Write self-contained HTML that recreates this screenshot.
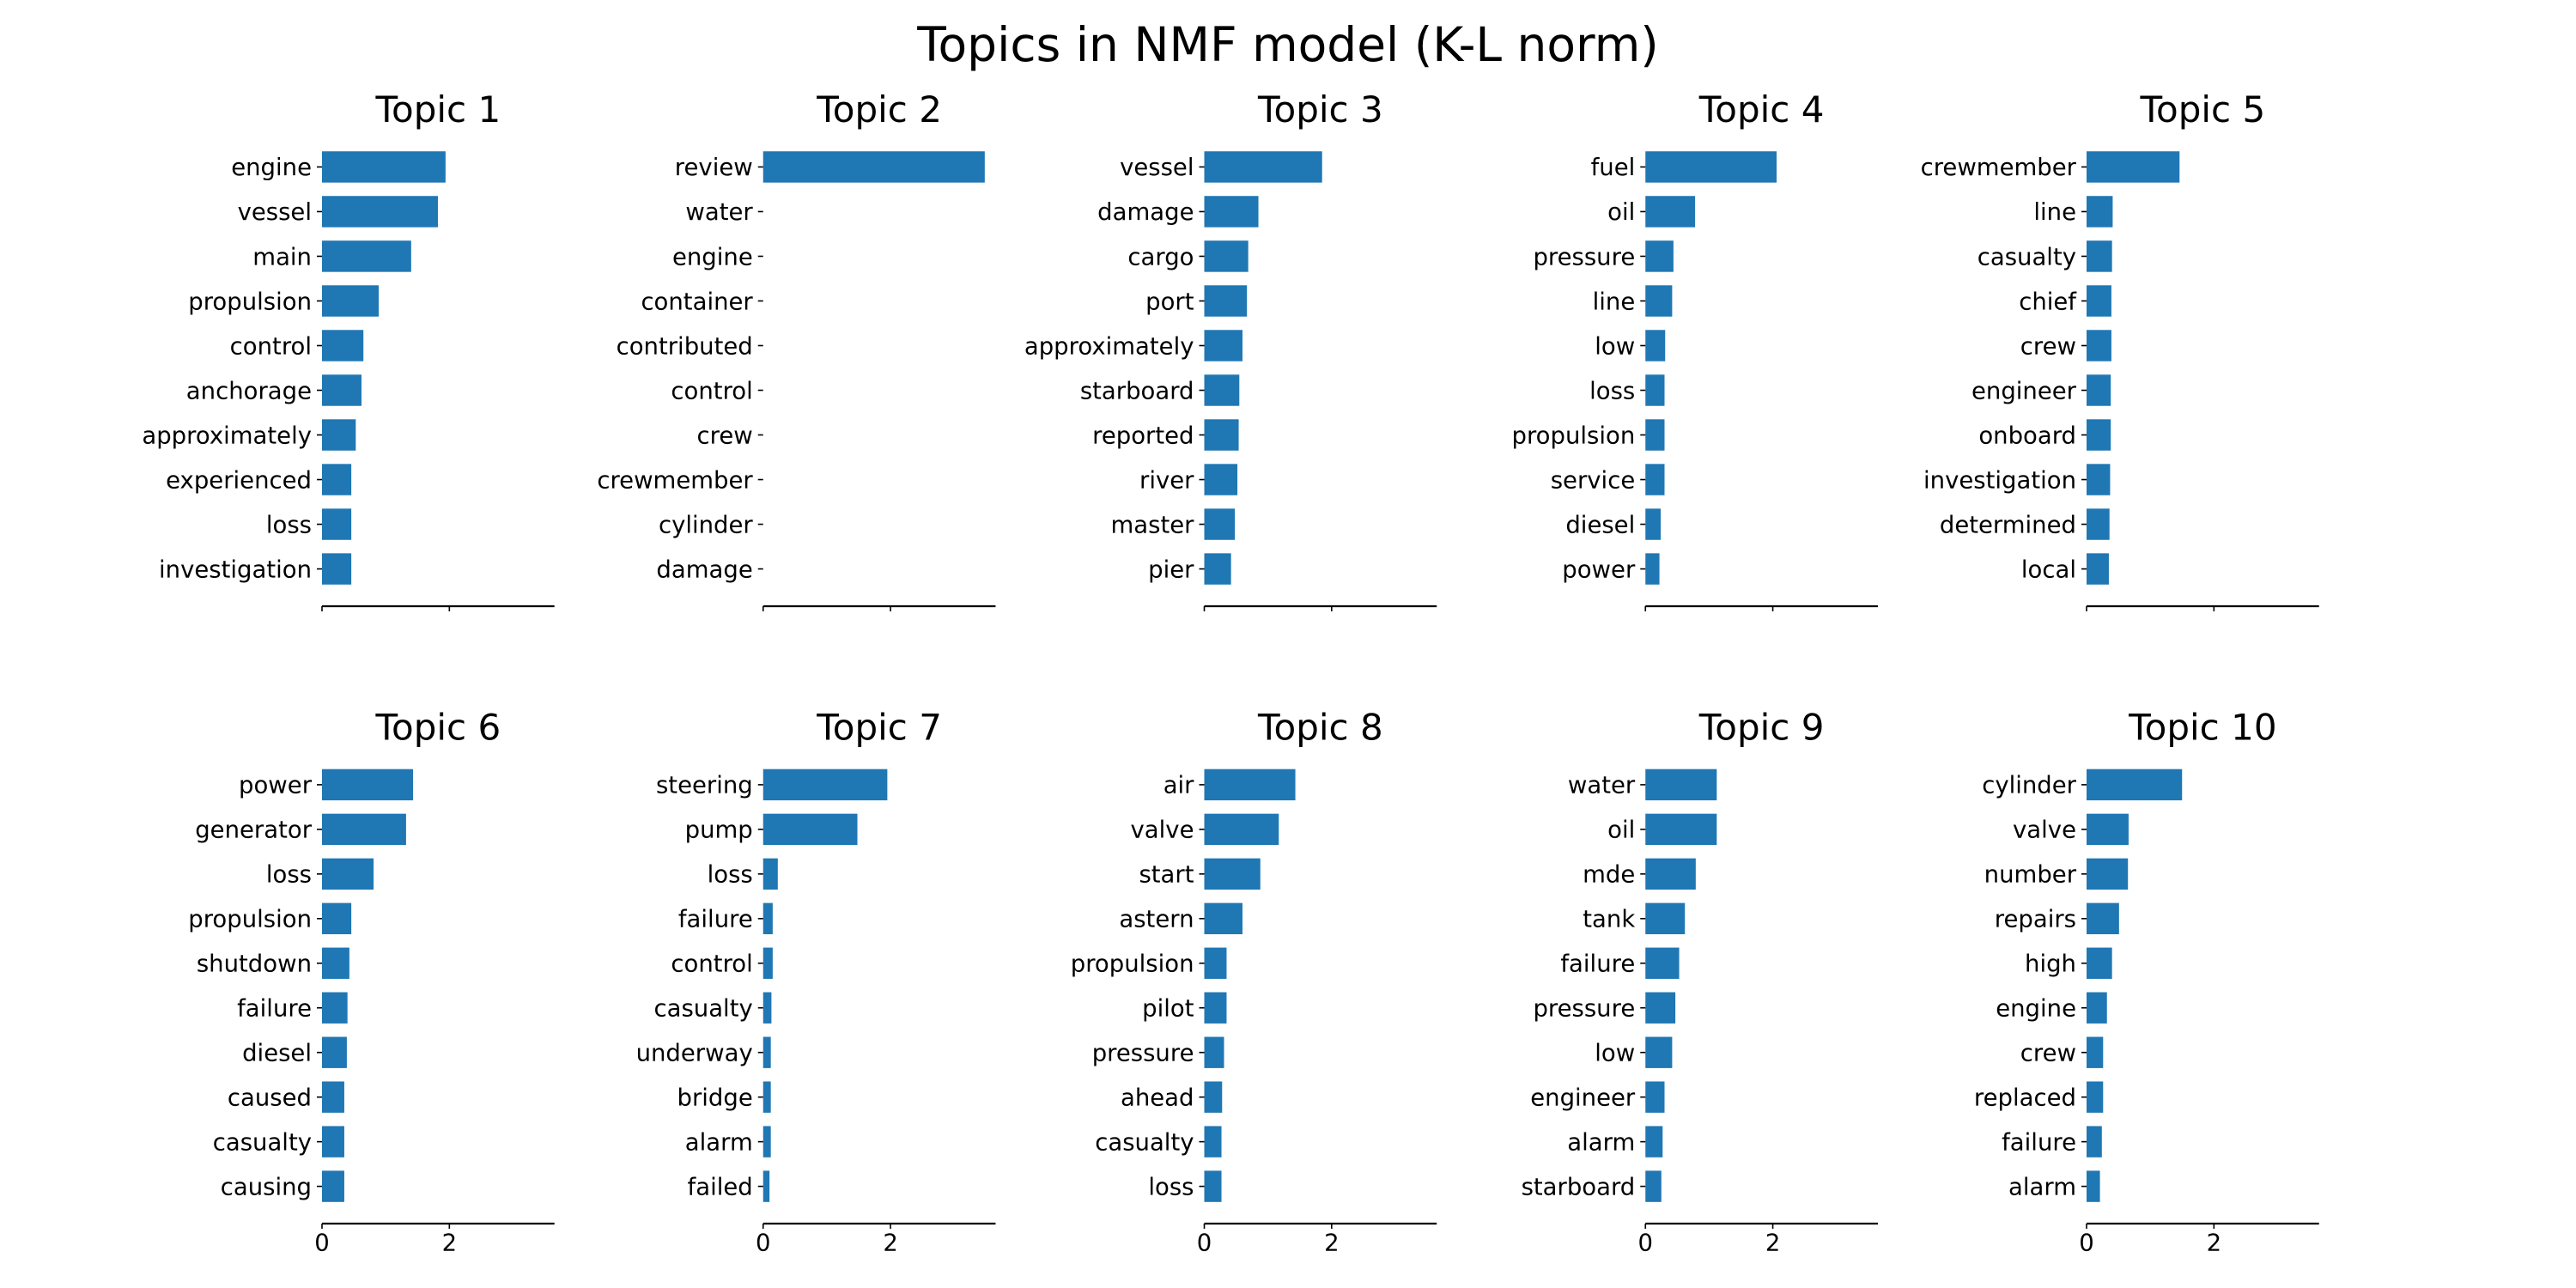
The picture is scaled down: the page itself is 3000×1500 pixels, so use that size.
<!DOCTYPE html>
<html>
<head>
<meta charset="utf-8">
<style>
html,body{margin:0;padding:0;background:#fff;}
svg{display:block;}
text{font-family:"DejaVu Sans","Liberation Sans",sans-serif;fill:#000;}
</style>
</head>
<body>
<svg id="chart" width="3000" height="1500" viewBox="0 0 3000 1500" xmlns="http://www.w3.org/2000/svg">
<rect width="3000" height="1500" fill="#fff"/>
<text x="1500" y="71" text-anchor="middle" font-size="55">Topics in NMF model (K-L norm)</text>
</svg>
<script>
const topicTitles = ["Topic 1","Topic 2","Topic 3","Topic 4","Topic 5","Topic 6","Topic 7","Topic 8","Topic 9","Topic 10"];
const topicWords = [
 ["engine","vessel","main","propulsion","control","anchorage","approximately","experienced","loss","investigation"],
 ["review","water","engine","container","contributed","control","crew","crewmember","cylinder","damage"],
 ["vessel","damage","cargo","port","approximately","starboard","reported","river","master","pier"],
 ["fuel","oil","pressure","line","low","loss","propulsion","service","diesel","power"],
 ["crewmember","line","casualty","chief","crew","engineer","onboard","investigation","determined","local"],
 ["power","generator","loss","propulsion","shutdown","failure","diesel","caused","casualty","causing"],
 ["steering","pump","loss","failure","control","casualty","underway","bridge","alarm","failed"],
 ["air","valve","start","astern","propulsion","pilot","pressure","ahead","casualty","loss"],
 ["water","oil","mde","tank","failure","pressure","low","engineer","alarm","starboard"],
 ["cylinder","valve","number","repairs","high","engine","crew","replaced","failure","alarm"]
];
const topic1Values = [1.94,1.82,1.40,0.89,0.65,0.62,0.53,0.46,0.46,0.46];
const topic2Values = [3.48,0,0,0,0,0,0,0,0,0];
const topic3Values = [1.85,0.85,0.69,0.67,0.60,0.55,0.54,0.52,0.48,0.42];
const topic4Values = [2.06,0.78,0.44,0.42,0.31,0.30,0.30,0.30,0.24,0.22];
const topic5Values = [1.46,0.41,0.40,0.39,0.39,0.38,0.38,0.37,0.36,0.35];
const topic6Values = [1.43,1.32,0.81,0.46,0.43,0.40,0.39,0.35,0.35,0.35];
const topic7Values = [1.95,1.48,0.23,0.15,0.15,0.13,0.12,0.12,0.12,0.10];
const topic8Values = [1.43,1.17,0.88,0.60,0.35,0.35,0.31,0.28,0.27,0.27];
const topic9Values = [1.12,1.12,0.79,0.62,0.53,0.47,0.42,0.30,0.27,0.25];
const topic10Values = [1.50,0.66,0.65,0.51,0.40,0.32,0.26,0.26,0.24,0.21];
const allValues = [topic1Values,topic2Values,topic3Values,topic4Values,topic5Values,topic6Values,topic7Values,topic8Values,topic9Values,topic10Values];
const xTicks = [0,2];
const xTickLabels = ["0","2"];
const xMax = 3.65;

const NS = "http://www.w3.org/2000/svg";
const svg = document.getElementById("chart");
function mk(tag, attrs){const e=document.createElementNS(NS,tag);for(const k in attrs)e.setAttribute(k,attrs[k]);return e;}

const colX0 = [375,888.75,1402.5,1916.25,2430];
const axW = 270.7;
const rowTop = [151,870.5];
const rowBot = [706,1425];

for(let t=0;t<10;t++){
  const r = Math.floor(t/5), c = t%5;
  const x0 = colX0[c], top = rowTop[r], bot = rowBot[r];
  const n = topicWords[t].length;
  const span = (n-1) + 0.7 + 2*0.05*((n-1)+0.7);
  const unitY = (bot-top)/span;
  const yScale = i => top + (0.35 + 0.05*((n-1)+0.7) + i)*unitY;
  const xScale = v => x0 + v/xMax*axW;
  const g = mk("g",{});
  
  
  svg.appendChild(g);
  const title = mk("text",{x:x0+axW/2,y:top-9,"text-anchor":"middle","font-size":"42"});
  
  
  title.textContent = topicTitles[t];
  g.appendChild(title);
  const vals = allValues[t];
  for(let i=0;i<n;i++){
    const yc = yScale(i);
    const bh = 0.7*unitY;
    const bar = mk("rect",{x:xScale(0),y:yc-bh/2,width:Math.max(0,xScale(vals[i])-xScale(0)),height:bh,fill:"#1f77b4"});
    
    
    g.appendChild(bar);
    const tk = mk("line",{x1:x0-6,x2:x0,y1:yc,y2:yc,stroke:"#000","stroke-width":"1.6"});
    
    
    g.appendChild(tk);
    const lb = mk("text",{x:x0-12,y:yc+9.8,"text-anchor":"end","font-size":"27.5"});
    
    
    lb.textContent = topicWords[t][i];
    g.appendChild(lb);
  }
  const sp = mk("line",{x1:x0,x2:x0+axW,y1:bot,y2:bot,stroke:"#000","stroke-width":"2.2"});
  
  
  g.appendChild(sp);
  for(let k=0;k<xTicks.length;k++){
    const xx = xScale(xTicks[k]);
    const xt = mk("line",{x1:xx,x2:xx,y1:bot,y2:bot+6,stroke:"#000","stroke-width":"1.6"});
    
    
    g.appendChild(xt);
    if(r===1){
      const xl = mk("text",{x:xx,y:bot+31.5,"text-anchor":"middle","font-size":"27.5"});
      
      
      xl.textContent = xTickLabels[k];
      g.appendChild(xl);
    }
  }
}
</script>
</body>
</html>
